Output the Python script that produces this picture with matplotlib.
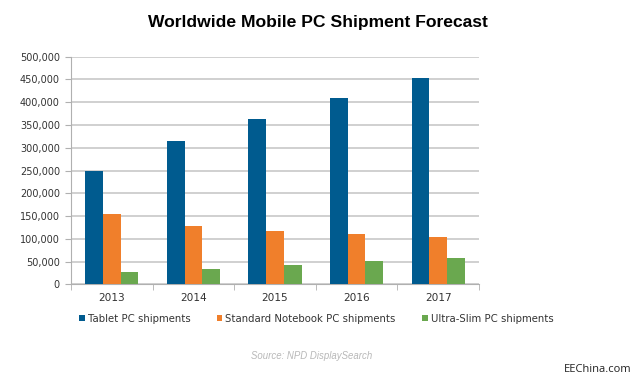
import numpy as np
import matplotlib
matplotlib.use("Agg")
import matplotlib.pyplot as plt
from matplotlib.ticker import FuncFormatter

# Donnees
years = ["2013", "2014", "2015", "2016", "2017"]
tablet = [249000, 314000, 364000, 409000, 454000]
notebook = [154000, 128000, 118000, 111000, 104000]
ultraslim = [26000, 34000, 43000, 51000, 57000]
series_names = ["Tablet PC shipments", "Standard Notebook PC shipments", "Ultra-Slim PC shipments"]
colors = ["#005b8f", "#f07f2b", "#6aa84f"]

fig = plt.figure(figsize=(6.4, 3.84), dpi=100)
ax = fig.add_axes([71 / 640, 1 - 284.3 / 384, 408 / 640, 227.6 / 384])

x = np.arange(len(years))
w = 0.217
for i, vals in enumerate([tablet, notebook, ultraslim]):
    ax.bar(x + (i - 1) * w, vals, width=w, color=colors[i], label=series_names[i], zorder=3)

ax.set_xlim(-0.5, len(years) - 0.5)
ax.set_ylim(0, 500000)
ax.set_yticks(range(0, 500001, 50000))
ax.yaxis.set_major_formatter(FuncFormatter(lambda v, p: f"{int(v):,}"))
ax.set_xticks(x)
ax.set_xticklabels(years)
ax.set_xticks(np.arange(-0.5, len(years)), minor=True)
ax.tick_params(axis="x", which="major", length=0, pad=6)
ax.tick_params(axis="x", which="minor", length=4, color="#b0b0b0")
ax.tick_params(axis="y", length=4, color="#b0b0b0", pad=4)
for lab in ax.get_yticklabels():
    lab.set_fontfamily("DejaVu Sans")
    lab.set_fontsize(7)
    lab.set_color("#333333")
for lab in ax.get_xticklabels():
    lab.set_fontfamily("DejaVu Sans")
    lab.set_fontsize(7.6)
    lab.set_color("#333333")

ax.grid(axis="y", color="#c8c8c8", linewidth=1.2, zorder=0)
for s in ["top", "right"]:
    ax.spines[s].set_visible(False)
ax.spines["left"].set_color("#b0b0b0")
ax.spines["bottom"].set_color("#b0b0b0")

leg = fig.legend(loc="center", bbox_to_anchor=(0.494, 1 - 319 / 384), ncol=3, frameon=False,
                 handlelength=0.55, handleheight=0.55, handletextpad=0.3, columnspacing=2.6,
                 prop={"family": "DejaVu Sans", "size": 7.3})
for t in leg.get_texts():
    t.set_color("#333333")

fig.text(318 / 640, 1 - 23 / 384, "Worldwide Mobile PC Shipment Forecast", ha="center", va="center",
         fontsize=12.6, fontweight="bold", family="Liberation Sans")
fig.text(312 / 640, 1 - 356 / 384, "Source: NPD DisplaySearch", ha="center", va="center",
         fontsize=6.9, style="italic", color="#b8b8b8", family="Liberation Sans")
fig.text(598 / 640, 1 - 369 / 384, "EEChina.com", ha="center", va="center",
         fontsize=8, color="#222222", family="Open Sans")

fig.savefig("out.png", dpi=100, facecolor="white")
